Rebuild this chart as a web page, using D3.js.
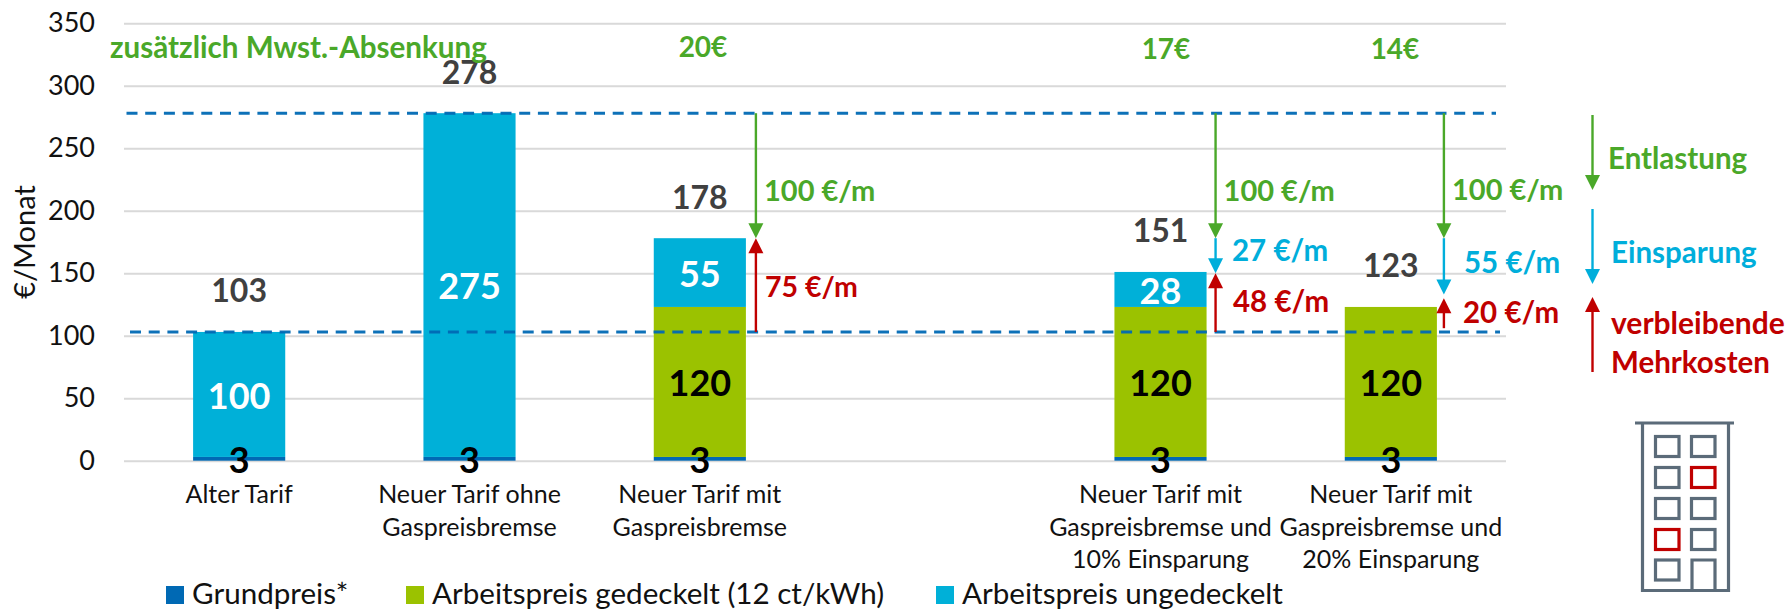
<!DOCTYPE html>
<html lang="de">
<head>
<meta charset="utf-8">
<title>Gaspreisbremse</title>
<script src="https://cdn.jsdelivr.net/npm/d3@7"></script>
<style>
  html, body { margin: 0; padding: 0; background: #fff; }
  svg { display: block; }
  text { font-family: Lato, sans-serif; }
</style>
</head>
<body>
<svg id="chart" width="1789" height="611"></svg>
<script>
// Kategorien (die leere Spalte ist die Lücke zwischen Balken 3 und 4)
const categories = ['alt', 'ohne', 'mit', 'leer', 'mit10', 'mit20'];
const categoryLines = [
    ['Alter Tarif'],
    ['Neuer Tarif ohne', 'Gaspreisbremse'],
    ['Neuer Tarif mit', 'Gaspreisbremse'],
    [],
    ['Neuer Tarif mit', 'Gaspreisbremse und', '10% Einsparung'],
    ['Neuer Tarif mit', 'Gaspreisbremse und', '20% Einsparung']
];
const seriesKeys = ['grundpreis', 'gedeckelt', 'ungedeckelt'];
const seriesNames = ['Grundpreis*', 'Arbeitspreis gedeckelt (12 ct/kWh)', 'Arbeitspreis ungedeckelt'];
const grundpreis = [3, 3, 3, 0, 3, 3];
const gedeckelt = [0, 0, 120, 0, 120, 120];
const ungedeckelt = [100, 275, 55, 0, 28, 0];
const yTicks = [0, 50, 100, 150, 200, 250, 300, 350];
const refLines = [278, 103];

// Pfeile: Kategorie, von, bis
const entlastung = [['mit', 278, 178], ['mit10', 278, 178], ['mit20', 278, 178]];
const einsparung = [['mit10', 178, 150], ['mit20', 178, 133]];
const mehrkosten = [['mit', 103, 178], ['mit10', 103, 150], ['mit20', 106, 130]];
const mwstLabels = ['zusätzlich Mwst.-Absenkung', '20€', '17€', '14€'];

const COLORS = { grundpreis: '#0069b4', gedeckelt: '#9bc200', ungedeckelt: '#00b0d8' };
const GREEN = '#4aa829', RED = '#c00000', CYAN = '#00aedb', DARK = '#404040', SLATE = '#5b6b79';

const svg = d3.select('#chart');
const margin = { left: 124, right: 283, top: 23.2, bottom: 150.3 };
const width = +svg.attr('width') - margin.left - margin.right;
const height = +svg.attr('height') - margin.top - margin.bottom;

const x = d3.scaleBand().domain(categories).range([0, width]).paddingInner(0.6).paddingOuter(0.3);
const y = d3.scaleLinear().domain([0, 350]).range([height, 0]);

const chart = svg.append('g').attr('transform', `translate(${margin.left},${margin.top})`);

// Achsen
const yAxis = chart.append('g')
    .call(d3.axisLeft(y).tickValues(yTicks).tickSize(-width).tickPadding(29));
yAxis.select('.domain').remove();
yAxis.selectAll('line').attr('stroke', '#d9d9d9').attr('stroke-width', 2);
yAxis.selectAll('text').attr('fill', '#111').style('font-size', '27px').style('font-family', 'Lato, sans-serif');

const xAxis = chart.append('g')
    .attr('transform', `translate(0,${height})`)
    .call(d3.axisBottom(x).tickSize(0).tickFormat(''));
xAxis.select('.domain').remove();
xAxis.selectAll('.tick text').each(function (d, i) {
    const t = d3.select(this).attr('y', 0).attr('dy', null).attr('fill', '#111')
        .style('font-size', '25px').style('font-family', 'Lato, sans-serif');
    categoryLines[i].forEach((line, j) => {
        t.append('tspan').attr('x', 0).attr('y', 42.4 + j * 32.5).text(line);
    });
});

svg.append('text')
    .attr('transform', 'translate(35,242) rotate(-90)')
    .attr('text-anchor', 'middle')
    .style('font-size', '29px')
    .attr('fill', '#111')
    .text('€/Monat');

// gestapelte Balken
const rows = categories.map((c, i) => ({
    cat: c, grundpreis: grundpreis[i], gedeckelt: gedeckelt[i], ungedeckelt: ungedeckelt[i]
}));
const stacked = d3.stack().keys(seriesKeys)(rows);

const layers = chart.selectAll('.layer').data(stacked).join('g').attr('class', 'layer')
    .attr('fill', d => COLORS[d.key]);
layers.selectAll('rect').data(d => d).join('rect')
    .attr('x', d => x(d.data.cat))
    .attr('width', x.bandwidth())
    .attr('y', d => y(d[1]))
    .attr('height', d => y(d[0]) - y(d[1]));

// gestrichelte Bezugslinien
const refStart = [2.5, 6], refEnd = [width - 10, width - 6];
chart.selectAll('.ref').data(refLines).join('line').attr('class', 'ref')
    .attr('x1', (d, i) => refStart[i]).attr('x2', (d, i) => refEnd[i])
    .attr('y1', d => y(d)).attr('y2', d => y(d))
    .attr('stroke', '#0069b4').attr('stroke-opacity', 0.95)
    .attr('stroke-width', 3).attr('stroke-dasharray', '11 7.7');

// Pfeile
function arrow(g, x0, y0, y1, color) {
    const dir = y1 > y0 ? 1 : -1;
    g.append('line').attr('x1', x0).attr('x2', x0).attr('y1', y0).attr('y2', y1 - dir * 10)
        .attr('stroke', color).attr('stroke-width', 2.4);
    g.append('path')
        .attr('d', d3.line()([[x0 - 7.5, y1 - dir * 15], [x0 + 7.5, y1 - dir * 15], [x0, y1]]))
        .attr('fill', color);
}
const arrowOffset = { mit: 10, mit10: 9, mit20: 7 };
const arrowX = c => x(c) + x.bandwidth() + arrowOffset[c];
const arrows = chart.append('g');
entlastung.forEach(d => arrow(arrows, arrowX(d[0]), y(d[1]), y(d[2]), GREEN));
einsparung.forEach(d => arrow(arrows, arrowX(d[0]), y(d[1]), y(d[2]), CYAN));
mehrkosten.forEach(d => arrow(arrows, arrowX(d[0]), y(d[1]), y(d[2]), RED));

// Werte in den Balken
const labelFill = { grundpreis: '#000', gedeckelt: '#000', ungedeckelt: '#fff' };
layers.each(function (layer) {
    chart.append('g').selectAll('text')
        .data(layer.filter(d => d[1] - d[0] > 0))
        .join('text')
        .attr('x', d => x(d.data.cat) + x.bandwidth() / 2)
        .attr('y', d => y((d[0] + d[1]) / 2))
        .attr('dy', '0.4em')
        .attr('text-anchor', 'middle')
        .attr('fill', labelFill[layer.key])
        .style('font-size', '36px')
        .style('font-weight', 700)
        .text(d => d[1] - d[0]);
});

// Summen über den Balken
chart.append('g').selectAll('text')
    .data(rows.filter(d => d.grundpreis > 0))
    .join('text')
    .attr('x', d => x(d.cat) + x.bandwidth() / 2)
    .attr('y', d => y(d.grundpreis + d.gedeckelt + d.ungedeckelt) - 29.5)
    .attr('text-anchor', 'middle')
    .attr('fill', DARK)
    .style('font-size', '32px')
    .style('font-weight', 700)
    .text(d => d.grundpreis + d.gedeckelt + d.ungedeckelt);

// Beschriftungen
function label(txt, px, py, color, size, anchor) {
    svg.append('text').attr('x', px).attr('y', py)
        .attr('text-anchor', anchor || 'start')
        .attr('fill', color)
        .style('font-size', size + 'px')
        .style('font-weight', 700)
        .text(txt);
}
label(mwstLabels[0], 110, 58, GREEN, 29.6);
label(mwstLabels[1], 703, 57, GREEN, 28, 'middle');
label(mwstLabels[2], 1166, 59, GREEN, 28, 'middle');
label(mwstLabels[3], 1395, 59, GREEN, 28, 'middle');
label('100 €/m', 764, 201, GREEN, 29);
label('100 €/m', 1223.6, 201, GREEN, 29);
label('100 €/m', 1452, 200, GREEN, 29);
label('27 €/m', 1232, 261, CYAN, 29.5);
label('55 €/m', 1464, 273, CYAN, 29.5);
label('75 €/m', 765, 297, RED, 28.5);
label('48 €/m', 1233, 312, RED, 29.5);
label('20 €/m', 1463, 323, RED, 29.5);
label('Entlastung', 1608, 169, GREEN, 29.5);
label('Einsparung', 1611, 262.5, CYAN, 29.5);
label('verbleibende', 1611, 334, RED, 30);
label('Mehrkosten', 1611, 373, RED, 29.5);

// Legende rechts
const keyArrows = svg.append('g');
arrow(keyArrows, 1592.5, 115, 190, GREEN);
arrow(keyArrows, 1592.5, 209, 284, CYAN);
arrow(keyArrows, 1592.5, 372, 297, RED);

// Legende unten
const legendX = [166, 406, 936];
const legend = svg.selectAll('.legend').data(seriesKeys).join('g').attr('class', 'legend')
    .attr('transform', (d, i) => `translate(${legendX[i]},586)`);
legend.append('rect').attr('width', 18).attr('height', 18).attr('fill', d => COLORS[d]);
legend.append('text').attr('x', 26).attr('y', 18).attr('fill', '#111')
    .style('font-size', '29.6px')
    .text((d, i) => seriesNames[i]);

// Haus-Symbol
const house = svg.append('g').attr('fill', 'none').attr('stroke', SLATE).attr('stroke-width', 3.2);
house.append('path').attr('d', 'M1635,423H1734M1642.5,423V590.5H1728.5V423');
const winCols = [1655.5, 1691.5], winRows = [436.5, 467.5, 498.5, 529.5, 560];
const redWindows = ['1,1', '3,0'];
winRows.forEach((wy, r) => winCols.forEach((wx, c) => {
    if (r === 4 && c === 1) return;
    house.append('rect').attr('x', wx).attr('y', wy).attr('width', 23.5).attr('height', 20)
        .attr('stroke', redWindows.includes(r + ',' + c) ? RED : SLATE);
}));
house.append('path').attr('d', 'M1692,590.5V560H1715V590.5');
</script>
</body>
</html>
